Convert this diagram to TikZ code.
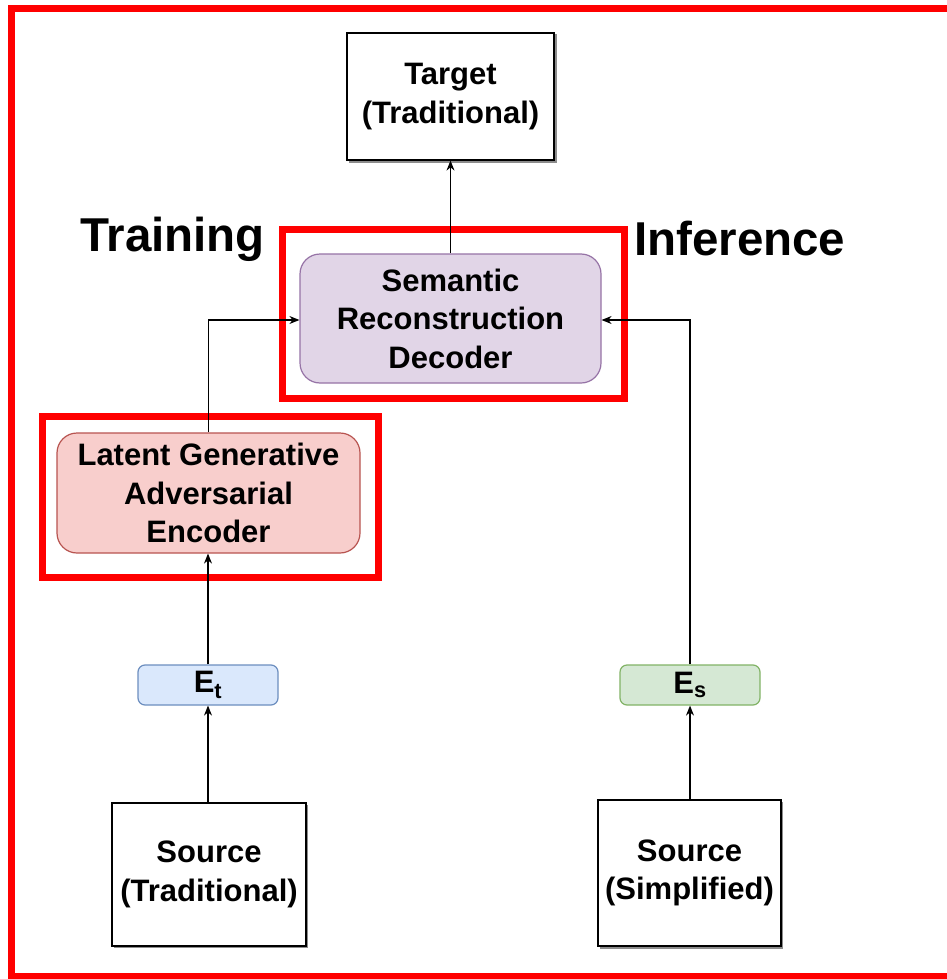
\documentclass[tikz,border=0pt]{standalone}
\usepackage{fontspec}
\setmainfont{Liberation Sans}
\usetikzlibrary{arrows.meta}
\definecolor{redframe}{HTML}{FF0000}
\definecolor{decfill}{HTML}{E1D5E7}
\definecolor{decdraw}{HTML}{9673A6}
\definecolor{encfill}{HTML}{F8CECC}
\definecolor{encdraw}{HTML}{B85450}
\definecolor{etfill}{HTML}{DAE8FC}
\definecolor{etdraw}{HTML}{6C8EBF}
\definecolor{esfill}{HTML}{D5E8D4}
\definecolor{esdraw}{HTML}{82B366}
\tikzset{
  txt/.style={font=\bfseries\fontsize{31}{38.5}\selectfont, align=center, text=black},
  plainbox/.style={txt, draw=black, line width=1.2pt, fill=white, inner sep=0pt},
  roundbox/.style={txt, line width=1.2pt, rounded corners=20pt, inner sep=0pt},
  smallbox/.style={txt, line width=1.2pt, rounded corners=7pt, inner sep=0pt},
  redbox/.style={draw=redframe, line width=7pt, inner sep=0pt},
  conn/.style={draw=black, line width=1.3pt, -{Stealth[length=10pt,width=8pt]}},
  bigtxt/.style={font=\bfseries\fontsize{47.5}{52}\selectfont, text=black, inner sep=0pt}
}
\begin{document}
\begin{tikzpicture}[x=1pt,y=-1pt]
\useasboundingbox (0,0) rectangle (946,979);
\fill[white] (0,0) rectangle (946,979);
% outer frame (right side outside the picture)
\draw[redframe, line width=6.5pt] (980,8.5) -- (11.5,8.5) -- (11.5,976) -- (980,976);

% shadows for plain boxes
\fill[black!45] (348.5,34.5) rectangle (556.5,162.5);
\fill[black!45] (113.5,804.5) rectangle (308,948);
\fill[black!45] (599.5,801.5) rectangle (783,948.5);

\node[plainbox, minimum width=207pt, minimum height=127pt] (target) at (450.5,96.5) {Target\\(Traditional)};
\node[redbox, minimum width=342pt, minimum height=169pt] (redD) at (453,313.5) {};
\node[roundbox, draw=decdraw, fill=decfill, minimum width=301pt, minimum height=129pt] (dec) at (450.5,318.5) {Semantic\\Reconstruction\\Decoder};
\node[redbox, minimum width=336pt, minimum height=161pt] (redE) at (210,496.5) {};
\node[roundbox, draw=encdraw, fill=encfill, minimum width=303pt, minimum height=120pt] (enc) at (208.5,493) {Latent Generative\\Adversarial\\Encoder};
\node[smallbox, draw=etdraw, fill=etfill, minimum width=140pt, minimum height=40pt] (et) at (208,685) {E\textsubscript{t}};
\node[smallbox, draw=esdraw, fill=esfill, minimum width=140pt, minimum height=40pt] (es) at (690,685) {E\textsubscript{s}};
\node[plainbox, minimum width=194pt, minimum height=143pt] (srct) at (209,874.5) {Source\\(Traditional)};
\node[plainbox, minimum width=183pt, minimum height=146pt] (srcs) at (689.5,873) {Source\\(Simplified)};

\node[bigtxt, anchor=west] (train) at (80,239) {Training};
\node[bigtxt, anchor=west] (infer) at (634,239) {Inference};

\coordinate (cl) at (208.5,320);
\coordinate (cr) at (690,320);
\draw[conn] (dec.north) -- (target.south);
\draw[conn] (enc.north) -- (cl) -- (dec.west |- cl);
\draw[conn] (et.north) -- (enc.south -| et.north);
\draw[conn] (srct.north -| et.south) -- (et.south);
\draw[conn] (es.north) -- (cr) -- (dec.east |- cr);
\draw[conn] (srcs.north -| es.south) -- (es.south);
\end{tikzpicture}
\end{document}
